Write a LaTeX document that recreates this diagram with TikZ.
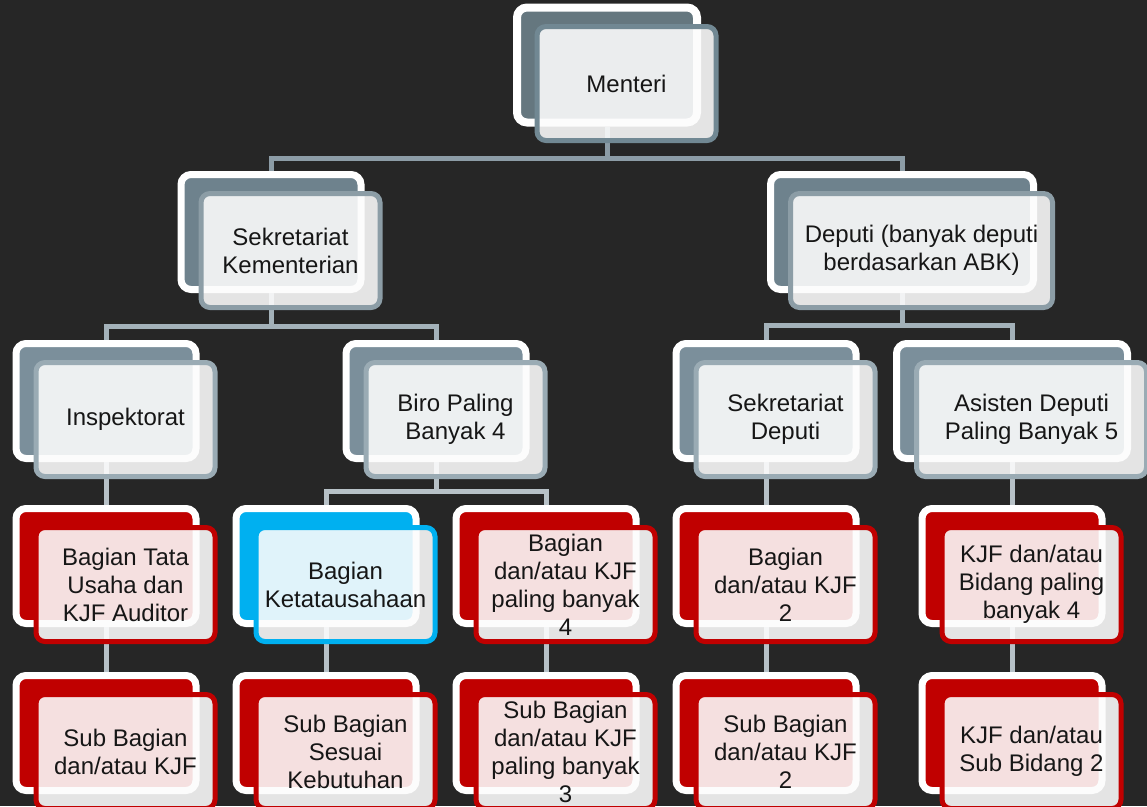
\documentclass[tikz,border=0pt]{standalone}
\usepackage{fontspec}
\setmainfont{Liberation Sans}
\usepackage{tikz}
\usetikzlibrary{positioning}

% Warna bagan
\definecolor{latar}{HTML}{262626}
\definecolor{abuA}{HTML}{65777F}
\definecolor{abuB}{HTML}{6E828D}
\definecolor{abuC}{HTML}{7B8F9B}
\definecolor{tepiA}{HTML}{718893}
\definecolor{tepiB}{HTML}{8C9DA6}
\definecolor{tepiC}{HTML}{9AABB4}
\definecolor{merah}{HTML}{C00000}
\definecolor{biru}{HTML}{00B0F0}
\definecolor{isi}{HTML}{FCFCFC}
\definecolor{teks}{HTML}{161616}
\definecolor{penghubungA}{HTML}{8C9CA6}
\definecolor{penghubungB}{HTML}{A3B1B9}
\definecolor{penghubungC}{HTML}{B7C1C7}

\newlength\px
\setlength\px{0.02cm}

\begin{document}
\begin{tikzpicture}[x=0.02cm, y=-0.02cm,
	belakang/.style={rectangle, rounded corners=10\px, draw=white, line width=7\px,
		minimum width=180\px, minimum height=115\px, inner sep=0pt},
	depan/.style={rectangle, rounded corners=9\px, line width=5\px, fill=isi,
		fill opacity=0.89, text opacity=1, text=teks, align=center,
		minimum width=179\px, minimum height=114\px, inner sep=0pt,
		xshift=19.5\px, yshift=-18.5\px,
		font=\fontsize{13.66}{15.94}\selectfont},
	penghubung/.style={line width=5\px, line join=miter}]
	
	%% LATAR %%
	\fill[latar] (0,0) rectangle (1147,806);
	\useasboundingbox (0,0) rectangle (1147,806);
	\clip (0,0) rectangle (1147,806);
	
	%% KOTAK BELAKANG %%
	% Tingkat 1 dan 2
	\node[belakang, fill=abuA, line width=8\px] (menteri-b) at (607,65) {};
	\node[belakang, fill=abuB] (sekkem-b) at (271,232) {};
	\node[belakang, fill=abuB, minimum width=263\px] (deputi-b) at (902,232) {};
	
	% Tingkat 3
	\node[belakang, fill=abuC] (inspektorat-b) at (106,401) {};
	\node[belakang, fill=abuC] (biro-b) at (436,401) {};
	\node[belakang, fill=abuC] (sekdep-b) at (766,401) {};
	\node[belakang, fill=abuC, minimum width=231\px] (asdep-b) at (1012,401) {};
	
	% Tingkat 4
	\node[belakang, fill=merah] (tu-b) at (106,566) {};
	\node[belakang, fill=biru] (ketu-b) at (326,566) {};
	\node[belakang, fill=merah] (bagbiro-b) at (546,566) {};
	\node[belakang, fill=merah] (bagdep-b) at (766,566) {};
	\node[belakang, fill=merah] (bidang-b) at (1012,566) {};
	
	% Tingkat 5
	\node[belakang, fill=merah] (subtu-b) at (106,733) {};
	\node[belakang, fill=merah] (subketu-b) at (326,733) {};
	\node[belakang, fill=merah] (subbiro-b) at (546,733) {};
	\node[belakang, fill=merah] (subdep-b) at (766,733) {};
	\node[belakang, fill=merah] (subbidang-b) at (1012,733) {};
	
	%% GARIS PENGHUBUNG %%
	\draw[penghubung, penghubungA] (menteri-b.south) -- ++(0,32) -| (sekkem-b.north);
	\draw[penghubung, penghubungA] (menteri-b.south) -- ++(0,32) -| (deputi-b.north);
	\draw[penghubung, penghubungB] (sekkem-b.south) -- ++(0,33) -| (inspektorat-b.north);
	\draw[penghubung, penghubungB] (sekkem-b.south) -- ++(0,33) -| (biro-b.north);
	\draw[penghubung, penghubungB] (deputi-b.south) -- ++(0,32) -| (sekdep-b.north);
	\draw[penghubung, penghubungB] (deputi-b.south) -- ++(0,32) -| (asdep-b.north);
	\draw[penghubung, penghubungC] (inspektorat-b.south) -- (tu-b.north);
	\draw[penghubung, penghubungC] (biro-b.south) -- ++(0,29) -| (ketu-b.north);
	\draw[penghubung, penghubungC] (biro-b.south) -- ++(0,29) -| (bagbiro-b.north);
	\draw[penghubung, penghubungC] (sekdep-b.south) -- (bagdep-b.north);
	\draw[penghubung, penghubungC] (asdep-b.south) -- (bidang-b.north);
	\draw[penghubung, penghubungC] (tu-b.south) -- (subtu-b.north);
	\draw[penghubung, penghubungC] (ketu-b.south) -- (subketu-b.north);
	\draw[penghubung, penghubungC] (bagbiro-b.south) -- (subbiro-b.north);
	\draw[penghubung, penghubungC] (bagdep-b.south) -- (subdep-b.north);
	\draw[penghubung, penghubungC] (bidang-b.south) -- (subbidang-b.north);
	
	%% KOTAK DEPAN BERISI TEKS %%
	% Tingkat 1 dan 2
	\node[depan, draw=tepiA] (menteri) at (menteri-b) {Menteri};
	\node[depan, draw=tepiB] (sekkem) at (sekkem-b) {Sekretariat\\Kementerian};
	\node[depan, draw=tepiB, minimum width=262\px] (deputi) at (deputi-b) {Deputi (banyak deputi\\berdasarkan ABK)};
	
	% Tingkat 3
	\node[depan, draw=tepiC] (inspektorat) at (inspektorat-b) {Inspektorat};
	\node[depan, draw=tepiC] (biro) at (biro-b) {Biro Paling\\Banyak 4};
	\node[depan, draw=tepiC] (sekdep) at (sekdep-b) {Sekretariat\\Deputi};
	\node[depan, draw=tepiC, minimum width=230\px] (asdep) at (asdep-b) {Asisten Deputi\\Paling Banyak 5};
	
	% Tingkat 4
	\node[depan, draw=merah] (tu) at (tu-b) {Bagian Tata\\Usaha dan\\KJF Auditor};
	\node[depan, draw=biru] (ketu) at (ketu-b) {Bagian\\Ketatausahaan};
	\node[depan, draw=merah] (bagbiro) at (bagbiro-b) {Bagian\\dan/atau KJF\\paling banyak\\4};
	\node[depan, draw=merah] (bagdep) at (bagdep-b) {Bagian\\dan/atau KJF\\2};
	\node[depan, draw=merah] (bidang) at (bidang-b) {KJF dan/atau\\Bidang paling\\banyak 4};
	
	% Tingkat 5
	\node[depan, draw=merah] (subtu) at (subtu-b) {Sub Bagian\\dan/atau KJF};
	\node[depan, draw=merah] (subketu) at (subketu-b) {Sub Bagian\\Sesuai\\Kebutuhan};
	\node[depan, draw=merah] (subbiro) at (subbiro-b) {Sub Bagian\\dan/atau KJF\\paling banyak\\3};
	\node[depan, draw=merah] (subdep) at (subdep-b) {Sub Bagian\\dan/atau KJF\\2};
	\node[depan, draw=merah] (subbidang) at (subbidang-b) {KJF dan/atau\\Sub Bidang 2};
\end{tikzpicture}
\end{document}
